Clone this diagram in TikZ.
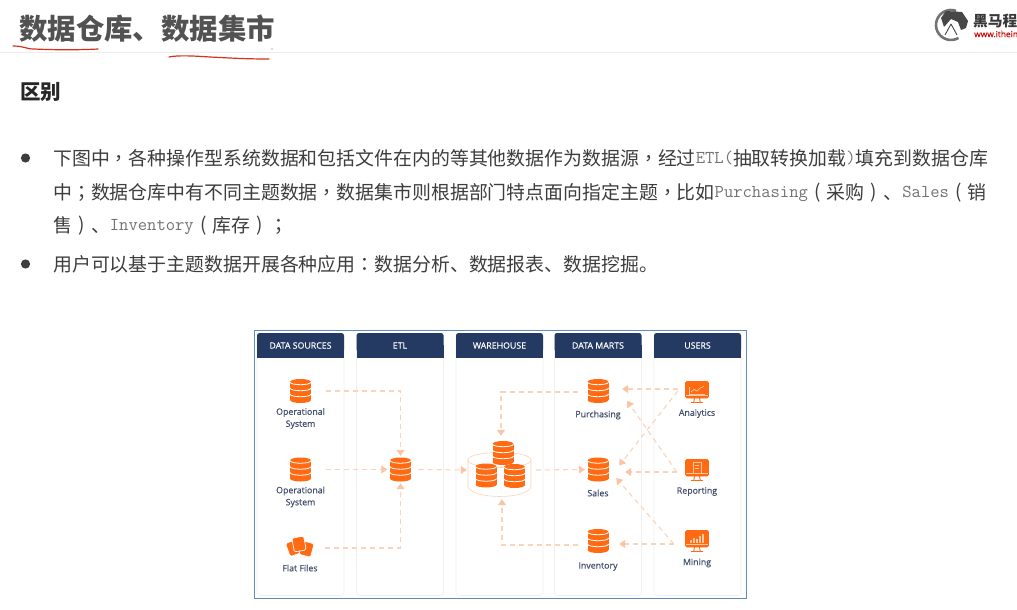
\documentclass[tikz,border=0pt]{standalone}
\usepackage{fontspec}
\setmainfont{Noto Sans CJK SC}
\setsansfont{Open Sans}
\newfontfamily\tcfont{Noto Sans CJK TC}
\newfontfamily\capfont[FakeBold=0.35]{Open Sans}
\usetikzlibrary{arrows.meta}

\definecolor{navy}{HTML}{243A63}
\definecolor{brand}{HTML}{FF6A13}
\definecolor{pale}{HTML}{FFC9A3}
\definecolor{peach}{HTML}{FBD3BA}
\definecolor{peachtip}{HTML}{F9C5A2}
\definecolor{ink}{HTML}{3D3D3D}
\definecolor{labelink}{HTML}{414E6E}
\definecolor{redpen}{HTML}{D9301E}
\definecolor{framecol}{HTML}{5F8DBB}

\newcommand{\lat}[1]{\raisebox{1.8pt}{\ttfamily\fontsize{18.1}{20}\selectfont\color{black!55}#1}}
\newcommand{\cpunct}[1]{{\tcfont #1}}
\newcommand{\cparen}[1]{\makebox[1em][c]{\raisebox{0.5pt}{#1}}}

\tikzset{
  bodytext/.style={anchor=base west,inner sep=0pt,text=ink,font=\fontsize{18.9}{22}\selectfont},
  panel/.style={draw=black!6,line width=0.6pt,rounded corners=3pt,minimum width=87pt,minimum height=262pt,inner sep=0pt},
  header/.style={text=white,inner sep=0pt,font=\capfont\fontsize{8.8}{10}\selectfont},
  caption/.style={text=labelink,inner sep=0pt,align=center,font=\capfont\fontsize{8.8}{12}\selectfont},
  iconbox/.style={inner sep=0pt,minimum width=22pt,minimum height=24pt},
  flow/.style={draw=peach,line width=1.1pt,dash pattern=on 5pt off 4pt,-{Triangle[length=6pt,width=8pt,color=peachtip,fill=peachtip]}},
  redline/.style={draw=redpen,line width=1.2pt,line cap=round},
  dbicon/.pic={
    \fill[brand] (-10.5,-9) rectangle (10.5,9);
    \fill[brand] (0,-9) ellipse [x radius=10.5,y radius=3];
    \fill[brand] (0,9) ellipse [x radius=10.5,y radius=3];
    \foreach \y in {-9,-3,3}
      \draw[white,line width=0.8pt] (-10.5,\y) .. controls (-10.5,\y+3.6) and (10.5,\y+3.6) .. (10.5,\y);
  },
  screenicon/.pic={
    \draw[brand,line width=0.9pt,fill=brand,rounded corners=1.5pt] (-11.5,-10.5) rectangle (11.5,6);
    \draw[pale,line width=0.7pt] (-11,3.4) -- (11,3.4);
    \draw[brand,line width=0.9pt] (-2.5,6) -- (-3.2,10) (2.5,6) -- (3.2,10) (-6,10.5) -- (6,10.5);
  },
  filesicon/.pic={
    \foreach \px/\py/\ang in {-6.5/1/20,6.5/2/-15,-1/-3/10}
      \draw[white,fill=brand,line width=0.7pt,rounded corners=1.5pt,shift={(\px,\py)},rotate=\ang] (-6,-7) rectangle (6,7);
  }
}

\begin{document}
\begin{tikzpicture}[x=1pt,y=-1pt]
  \useasboundingbox (0,0) rectangle (1017,610);
  \fill[white] (0,0) rectangle (1017,610);

  \draw[black!7,line width=0.8pt] (0,52) -- (1017,52);
  \node[anchor=base west,inner sep=0pt,text=black!68,font=\bfseries\fontsize{28.4}{32}\selectfont] (title) at (19,39.3) {数据仓库、数据集市};
  \draw[redline] (13,46) .. controls (24,46) and (26,49) .. (34,49) .. controls (55,50) and (80,50) .. (98,49);
  \draw[redline] (169,57) .. controls (178,55) and (195,56) .. (210,57) .. controls (230,58) and (245,59) .. (269,59);
  \fill[redpen] (272,49) circle (0.7);

  \draw[black!55,line width=2.6pt] (951,25) ++(-70:15) arc [start angle=-70,end angle=-300,radius=15];
  \fill[black!72] (946,11) -- (962,12) -- (968,21) -- (966,28) -- (961,30) -- (958,22) -- (951,19) -- (944,27) -- (941,18) -- cycle;
  \draw[black!72,line width=0.9pt] (951,24) -- (945,35) (951,24) -- (957,35);
  \node[anchor=west,inner sep=0pt,text=black!78,font=\bfseries\fontsize{14.7}{16}\selectfont] (logotext) at (973,21.5) {黑马程};
  \node[anchor=west,inner sep=0pt,text=red!80!black,font=\capfont\fontsize{8.4}{10}\selectfont] (logourl) at (974,34) {www.ithein};

  \node[anchor=base west,inner sep=0pt,text=black!85,font=\bfseries\fontsize{20.5}{24}\selectfont] (subtitle) at (20,99.3) {区别};

  \fill[ink] (25.5,158) circle (4.6);
  \fill[ink] (25.5,264) circle (4.6);
  \node[bodytext] (lineone) at (53,165) {下图中\cpunct{，}各种操作型系统数据和包括文件在内的等其他数据作为数据源\cpunct{，}经过\lat{ETL(}抽取转换加载\lat{)}填充到数据仓库};
  \node[bodytext] (linetwo) at (53,199) {中\cpunct{；}数据仓库中有不同主题数据\cpunct{，}数据集市则根据部门特点面向指定主题\cpunct{，}比如\lat{Purchasing}\cparen{(}采购\cparen{)}、\lat{Sales}\cparen{(}销};
  \node[bodytext] (linethree) at (53,232) {售\cparen{)}、\lat{Inventory}\cparen{(}库存\cparen{)}\cpunct{；}};
  \node[bodytext] (linefour) at (53,271) {用户可以基于主题数据开展各种应用\cpunct{：}数据分析、数据报表、数据挖掘。};

  \draw[framecol,line width=0.9pt] (254,330) rectangle (746,598);

  \foreach \x/\name/\txt in {300.5/srchead/DATA SOURCES,400/etlhead/ETL,499.5/warehead/WAREHOUSE,598/marthead/DATA MARTS,697.5/userhead/USERS} {
    \node[panel] at (\x,464.5) {};
    \fill[navy,rounded corners=2.5pt] ({\x-43.5},333) rectangle ({\x+43.5},352);
    \fill[navy] ({\x-43.5},345) rectangle ({\x+43.5},357.5);
    \node[header] (\name) at (\x,345.5) {\txt};
  }

  \draw[peach,line width=0.6pt] (468,460) .. controls (468,450) and (531,450) .. (531,460) .. controls (531,470) and (468,470) .. (468,460) -- (468,486) .. controls (470,500) and (529,500) .. (531,486) -- (531,460);

  \node[iconbox] (opone) at (300.5,391) {};
  \node[iconbox] (optwo) at (300.5,469.5) {};
  \node[iconbox,minimum width=27pt,minimum height=20pt] (files) at (300,547) {};
  \node[iconbox] (etl) at (400.5,469.5) {};
  \node[iconbox,minimum width=63pt,minimum height=58pt] (warehouse) at (499.5,470) {};
  \node[iconbox] (purchasing) at (598,391) {};
  \node[iconbox] (sales) at (598,469.5) {};
  \node[iconbox] (inventory) at (598,541) {};
  \node[iconbox] (analytics) at (697,392) {};
  \node[iconbox] (reporting) at (697,470) {};
  \node[iconbox] (mining) at (697,541) {};

  \pic at (opone) {dbicon};
  \pic at (optwo) {dbicon};
  \pic at (etl) {dbicon};
  \pic at (503,453) {dbicon};
  \pic at (486,475.5) {dbicon};
  \pic at (514.5,476) {dbicon};
  \pic at (purchasing) {dbicon};
  \pic at (sales) {dbicon};
  \pic at (inventory) {dbicon};
  \pic at (files) {filesicon};
  \pic at (analytics) {screenicon};
  \pic at (reporting) {screenicon};
  \pic at (mining) {screenicon};

  \draw[pale,line width=0.7pt] (689,387) -- (689,394) -- (705,394);
  \draw[pale,line width=0.7pt] (691,392) -- (694,389.5) -- (697,391) -- (700,388) -- (704,386.5);
  \draw[pale,line width=0.8pt,fill=brand] (693,462) rectangle (701,473);
  \draw[pale,line width=0.6pt] (695,465) -- (699,465) (695,468) -- (699,468);
  \foreach \x/\h in {691/3,694/5,697/4,700/7,703/9}
    \draw[pale,line width=1.3pt] (\x,543) -- (\x,543-\h);

  \node[caption] (oponelabel) at (300.5,418.5) {Operational\\System};
  \node[caption] (optwolabel) at (300.5,497) {Operational\\System};
  \node[caption] (fileslabel) at (300,568) {Flat Files};
  \node[caption] (purchasinglabel) at (598,415) {Purchasing};
  \node[caption] (saleslabel) at (598,493) {Sales};
  \node[caption] (inventorylabel) at (598,566.5) {Inventory};
  \node[caption] (analyticslabel) at (697,413.5) {Analytics};
  \node[caption] (reportinglabel) at (697,491.5) {Reporting};
  \node[caption] (mininglabel) at (697,563) {Mining};

  \draw[flow] ([xshift=14pt]opone.east) -| ([yshift=1.5pt]etl.north);
  \draw[flow] ([xshift=14pt]optwo.east) -- ([xshift=-2pt]etl.west);
  \draw[flow] ([xshift=11.5pt,yshift=-1pt]files.east) -| ([yshift=-1.5pt]etl.south);
  \draw[flow] ([xshift=7pt]etl.east) -- ([xshift=-1pt]warehouse.west);
  \draw[flow] ([xshift=5pt]warehouse.east) -- ([xshift=-2pt]sales.west);
  \draw[flow] ([xshift=-9pt,yshift=-1pt]purchasing.west) -| ([xshift=1.5pt,yshift=5pt]warehouse.north);
  \draw[flow] ([xshift=-9pt,yshift=-4pt]inventory.west) -| ([xshift=2.5pt]warehouse.south);
  \draw[flow] ([xshift=-8pt,yshift=3pt]analytics.west) -- ([xshift=13pt,yshift=2pt]purchasing.east);
  \draw[flow] ([xshift=-8pt,yshift=1pt]analytics.west) -- ([xshift=10pt,yshift=4pt]sales.east);
  \draw[flow] ([xshift=-9pt,yshift=-2pt]reporting.west) -- ([xshift=18pt,yshift=-10pt]purchasing.east);
  \draw[flow] ([xshift=-9pt,yshift=-2pt]reporting.west) -- ([xshift=16pt,yshift=-2.5pt]sales.east);
  \draw[flow] ([xshift=-12pt,yshift=-3pt]mining.west) -- ([xshift=7pt,yshift=-8.5pt]sales.east);
  \draw[flow] ([xshift=-12pt,yshift=-3pt]mining.west) -- ([xshift=10pt,yshift=-3pt]inventory.east);
\end{tikzpicture}
\end{document}
